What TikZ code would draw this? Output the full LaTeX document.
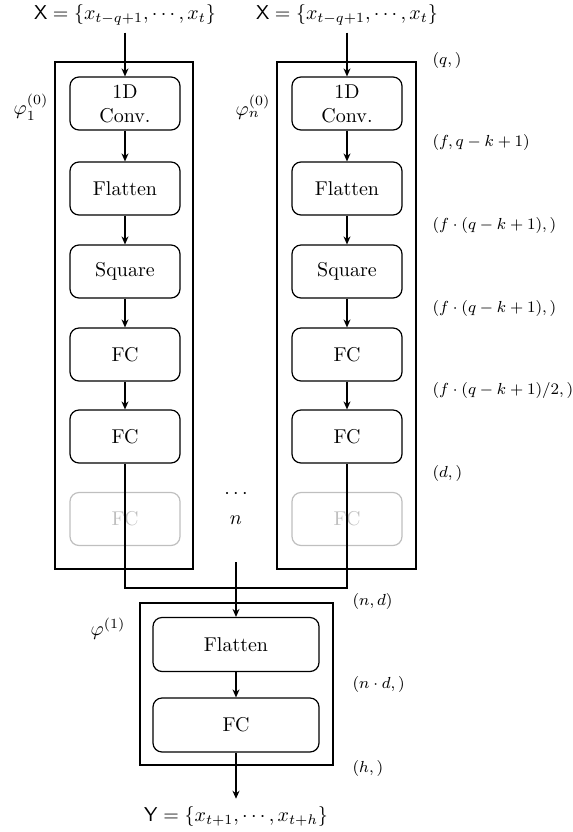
\documentclass[tikz,border=0pt]{standalone}
\usetikzlibrary{arrows.meta,positioning}
\begin{document}
\begin{tikzpicture}[x=0.5pt,y=-0.5pt,line width=0.6pt,
  blk/.style={draw,rounded corners=4.5pt,minimum width=55pt,minimum height=26.5pt,align=center,inner sep=1pt},
  bblk/.style={draw,rounded corners=4.5pt,minimum width=83pt,minimum height=27pt,align=center,inner sep=1pt},
  faded/.style={blk,draw=black!25,text=black!25},
  outer/.style={draw,minimum width=#1,inner sep=0pt},
  arr/.style={-{Stealth[length=4pt,width=3.5pt]}},
  dim/.style={anchor=west,font=\fontsize{8.3}{10}\selectfont,inner sep=0pt}]
\useasboundingbox (0,0) rectangle (573,832);
% outer boxes
\node[outer=69pt,minimum height=253.5pt] (ol) at (124,315.5) {};
\node[outer=69.5pt,minimum height=253.5pt] (or) at (346.5,315.5) {};
\node[outer=96.5pt,minimum height=81pt] (ob) at (236.5,684) {};
% inputs
\node (xl) at (125,15) {$\mathsf{X}=\{x_{t-q+1},\cdots,x_t\}$};
\node (xr) at (347,15) {$\mathsf{X}=\{x_{t-q+1},\cdots,x_t\}$};
% left column
\node[blk] (l1) at (125,103.5) {1D\\Conv.};
\node[blk] (l2) at (125,188.5) {Flatten};
\node[blk] (l3) at (125,271.5) {Square};
\node[blk] (l4) at (125,354.5) {FC};
\node[blk] (l5) at (125,436.5) {FC};
\node[faded] (l6) at (125,519) {FC};
% right column
\node[blk] (r1) at (347,103.5) {1D\\Conv.};
\node[blk] (r2) at (347,188.5) {Flatten};
\node[blk] (r3) at (347,271.5) {Square};
\node[blk] (r4) at (347,354.5) {FC};
\node[blk] (r5) at (347,436.5) {FC};
\node[faded] (r6) at (347,519) {FC};
% bottom
\node[bblk] (b1) at (236,644.5) {Flatten};
\node[bblk] (b2) at (236,725) {FC};
\node (yl) at (236,816) {$\mathsf{Y}=\{x_{t+1},\cdots,x_{t+h}\}$};
% labels
\node (pl) at (31,107) {$\varphi_1^{(0)}$};
\node (pr) at (253,107) {$\varphi_n^{(0)}$};
\node (pb) at (108,629) {$\varphi^{(1)}$};
\node (dots) at (236,494) {$\cdots$};
\node (nn) at (236,520) {$n$};
\node[dim] (d1) at (432,60) {$(q,)$};
\node[dim] (d2) at (432,142) {$(f,q-k+1)$};
\node[dim] (d3) at (432,225) {$(f\cdot(q-k+1),)$};
\node[dim] (d4) at (432,308) {$(f\cdot(q-k+1),)$};
\node[dim] (d5) at (432,390) {$(f\cdot(q-k+1)/2,)$};
\node[dim] (d6) at (432,473) {$(d,)$};
\node[dim] (e1) at (352,601) {$(n,d)$};
\node[dim] (e2) at (352,684) {$(n\cdot d,)$};
\node[dim] (e3) at (352,768) {$(h,)$};
% connectors
\draw[arr] (xl) -- (l1);
\draw[arr] (xr) -- (r1);
\foreach \a/\b in {l1/l2,l2/l3,l3/l4,l4/l5,r1/r2,r2/r3,r3/r4,r4/r5}
  \draw[arr] (\a) -- (\b);
\coordinate (mg) at (236,588);
\coordinate (st) at (236,562);
\draw (l5.south) |- (mg) -| (r5.south);
\draw[arr] (st) -- (b1);
\draw[arr] (b1) -- (b2);
\draw[arr] (b2) -- (yl);
\end{tikzpicture}
\end{document}
